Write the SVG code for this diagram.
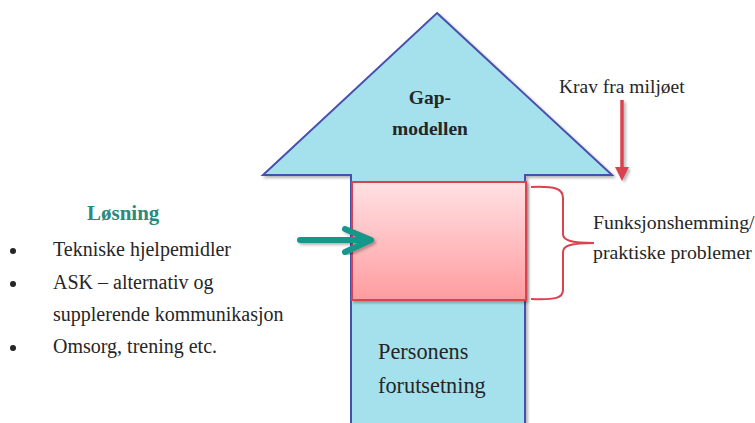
<svg xmlns="http://www.w3.org/2000/svg" width="755" height="423" viewBox="0 0 755 423">
  <defs>
    <linearGradient id="redFill" x1="0" y1="0" x2="0" y2="1">
      <stop offset="0" stop-color="#ffe1e3"/>
      <stop offset="1" stop-color="#ff9ca0"/>
    </linearGradient>
    <filter id="shadow" x="-10%" y="-10%" width="120%" height="120%">
      <feGaussianBlur in="SourceAlpha" stdDeviation="1.5"/>
      <feOffset dx="1.5" dy="1.5"/>
      <feComponentTransfer><feFuncA type="linear" slope="0.3"/></feComponentTransfer>
      <feMerge><feMergeNode/><feMergeNode in="SourceGraphic"/></feMerge>
    </filter>
  </defs>
  <rect width="755" height="423" fill="#ffffff"/>

  <g font-family="Liberation Serif" fill="#262626">
  <!-- big upward arrow -->
  <g id="gap-arrow">
    <path d="M437,13 L612,175 L525,175 L525,430 L351,430 L351,175 L263,175 Z" fill="#a5e1ec" stroke="#4a4fae" stroke-width="2" filter="url(#shadow)"/>
    <text font-weight="bold" x="430" y="104" font-size="19.5" text-anchor="middle">Gap-</text>
    <text font-weight="bold" x="430" y="135" font-size="19.5" text-anchor="middle">modellen</text>
  </g>

  <!-- problem box -->
  <g id="problem-box" filter="url(#shadow)">
    <rect x="352" y="182" width="174" height="118" fill="url(#redFill)" stroke="#d9434f" stroke-width="2"/>
  </g>

  <g id="person" font-size="22.3">
    <text x="378" y="359">Personens</text>
    <text x="378" y="393">forutsetning</text>
  </g>

  <g id="krav" font-size="19.5">
    <text x="559" y="93">Krav fra miljøet</text>
  </g>

  <g id="funksjon" font-size="19.8">
    <text x="593" y="229">Funksjonshemming/</text>
    <text x="593" y="259">praktiske problemer</text>
  </g>

  <g id="losning" font-size="20">
    <text font-weight="bold" x="87" y="220" font-size="21" fill="#2a8a7c">Løsning</text>
    <circle cx="13" cy="251" r="3"/>
    <text x="53" y="256">Tekniske hjelpemidler</text>
    <circle cx="13" cy="284" r="3"/>
    <text x="53" y="289">ASK – alternativ og</text>
    <text x="53" y="321">supplerende kommunikasjon</text>
    <circle cx="13" cy="348" r="3"/>
    <text x="53" y="353">Omsorg, trening etc.</text>
  </g>
  </g>

  <!-- connectors -->
  <g id="connectors">
    <!-- demand arrow -->
    <g filter="url(#shadow)">
      <line x1="622" y1="100" x2="622" y2="168" stroke="#d9434f" stroke-width="3.5"/>
      <path d="M615,167 L629,167 L622,181 Z" fill="#d9434f"/>
    </g>
    <!-- solution arrow -->
    <g filter="url(#shadow)" stroke="#12978a" stroke-width="6" stroke-linecap="round" stroke-linejoin="round" fill="none">
      <line x1="300" y1="240" x2="369" y2="240"/>
      <path d="M345,229 L371,240 L345,252"/>
    </g>
    <!-- brace -->
    <path d="M531,187 C556,186 563,189 563,198 L563,234 C563,240 570,243 594,243 C570,243 563,246 563,252 L563,290 C563,298 556,300 531,299" fill="none" stroke="#d9434f" stroke-width="2"/>
  </g>
</svg>
